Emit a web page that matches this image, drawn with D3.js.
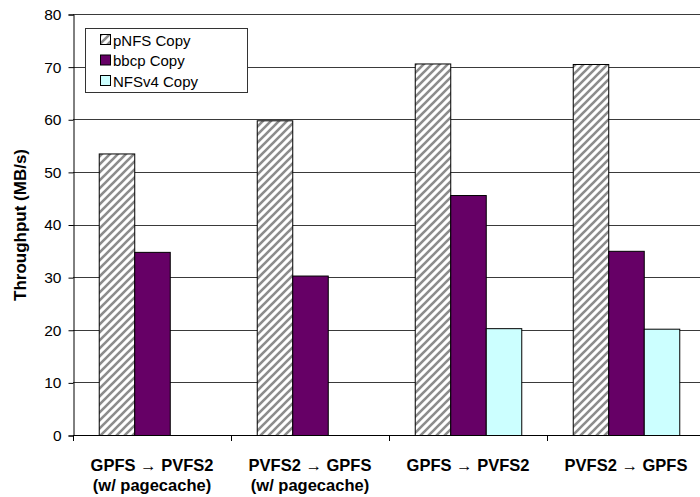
<!DOCTYPE html>
<html><head><meta charset="utf-8">
<script src="https://cdn.jsdelivr.net/npm/d3@7"></script>
<style>body{margin:0;background:#fff}svg{display:block}text{font-family:"Liberation Sans",Arial,sans-serif}</style>
</head><body><svg id="c" width="700" height="497"></svg>
<script>
const categories = [["GPFS \u2192 PVFS2","(w/ pagecache)"],["PVFS2 \u2192 GPFS","(w/ pagecache)"],["GPFS \u2192 PVFS2",""],["PVFS2 \u2192 GPFS",""]];
const seriesNames = ["pNFS Copy","bbcp Copy","NFSv4 Copy"];
const pnfs = [53.5, 59.8, 70.6, 70.5];
const bbcp = [34.8, 30.3, 45.6, 35.0];
const nfsv4 = [null, null, 20.3, 20.2];
const yTicks = [0,10,20,30,40,50,60,70,80];
const fills = ["url(#hatch)","#660066","#ccffff"];

const svg = d3.select("#c");
const defs = svg.append("defs");
const pat = defs.append("pattern").attr("id","hatch").attr("patternUnits","userSpaceOnUse").attr("width",8).attr("height",8);
pat.append("rect").attr("width",8).attr("height",8).attr("fill","#fff");
pat.append("path").attr("d","M-2,2 l4,-4 M0,8 l8,-8 M6,10 l4,-4").attr("stroke","#8c8c8c").attr("stroke-width",2.6);

const x = d3.scaleBand().domain(d3.range(categories.length)).range([73,705]).padding(0);
const xs = d3.scaleBand().domain(d3.range(seriesNames.length)).range([0,x.bandwidth()]).paddingInner(0).paddingOuter(0.725);
const y = d3.scaleLinear().domain([0,80]).range([435,14]);

// gridlines
svg.append("g").selectAll("line").data(yTicks.filter(t=>t>0)).join("line")
  .attr("x1",73).attr("x2",700).attr("y1",d=>Math.round(y(d))+0.5).attr("y2",d=>Math.round(y(d))+0.5)
  .attr("stroke","#3a3a3a").attr("stroke-width",1);

const series = [pnfs,bbcp,nfsv4];
series.forEach((vals,si)=>{
  svg.append("g").selectAll("rect").data(vals.map((v,i)=>({v,i})).filter(d=>d.v!=null)).join("rect")
    .attr("x",d=>x(d.i)+xs(si)+0.5).attr("width",xs.bandwidth())
    .attr("y",d=>y(d.v)+0.5).attr("height",d=>y(0)-y(d.v))
    .attr("fill",fills[si]).attr("stroke","#000").attr("stroke-width",1);
});

// y axis
const ya = d3.axisLeft(y).tickValues(yTicks).tickSize(5).tickPadding(7);
const gy = svg.append("g").attr("transform","translate(73.5,0.5)").call(ya);
gy.select(".domain").attr("stroke","#000");
gy.selectAll(".tick line").attr("stroke","#000");
gy.selectAll("text").attr("font-size",15.5).attr("fill","#000").style("font-family","'Liberation Sans',Arial");

// x axis
svg.append("line").attr("x1",73).attr("x2",700).attr("y1",435.5).attr("y2",435.5).attr("stroke","#000");
svg.append("g").selectAll("line").data(d3.range(categories.length+1)).join("line")
  .attr("x1",d=>Math.round(73+d*x.bandwidth())+0.5).attr("x2",d=>Math.round(73+d*x.bandwidth())+0.5)
  .attr("y1",435).attr("y2",441).attr("stroke","#000");
const xl = svg.append("g").selectAll("text").data(categories).join("text")
  .attr("x",(d,i)=>x(i)+x.bandwidth()/2).attr("y",471).attr("text-anchor","middle")
  .attr("font-size",16.5).attr("font-weight","bold");
xl.append("tspan").attr("x",(d,i)=>x(i)+x.bandwidth()/2).text(d=>d[0]);
xl.append("tspan").attr("x",(d,i)=>x(i)+x.bandwidth()/2).attr("dy",20).text(d=>d[1]);

// y title
svg.append("text").attr("transform","translate(26,225) rotate(-90)").attr("text-anchor","middle")
  .attr("font-size",17).attr("font-weight","bold").text("Throughput (MB/s)");

// legend
const lg = svg.append("g");
lg.append("rect").attr("x",85.5).attr("y",28.5).attr("width",162).attr("height",64).attr("fill","#fff").attr("stroke","#333");
seriesNames.forEach((n,i)=>{
  const cy = 40 + i*20.5;
  lg.append("rect").attr("x",100.5).attr("y",cy-5.5).attr("width",10).attr("height",10).attr("fill",fills[i]).attr("stroke","#000");
  lg.append("text").attr("x",113).attr("y",cy+5.5).attr("font-size",15).text(n);
});
</script></body></html>
